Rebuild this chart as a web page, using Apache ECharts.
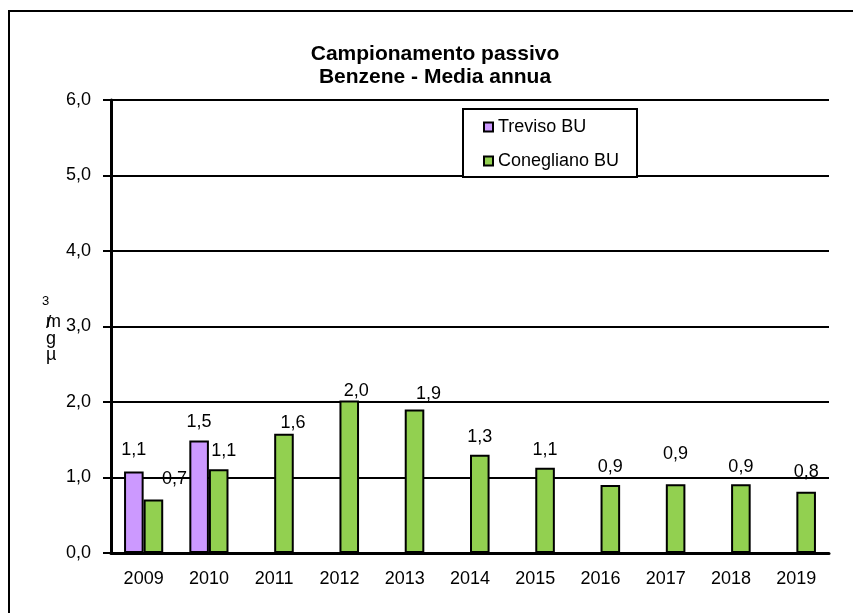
<!DOCTYPE html>
<html>
<head>
<meta charset="utf-8">
<script src="https://cdn.jsdelivr.net/npm/echarts@6/dist/echarts.min.js"></script>
<style>
  html, body { margin: 0; padding: 0; background: #fff; }
  #chart { width: 853px; height: 613px; }
</style>
</head>
<body>
<div id="chart"></div>
<script>
// dati
const years = ['2009', '2010', '2011', '2012', '2013', '2014', '2015', '2016', '2017', '2018', '2019']
const treviso = [1.08, 1.49, null, null, null, null, null, null, null, null, null]
const conegliano = [0.71, 1.11, 1.58, 2.02, 1.90, 1.30, 1.13, 0.90, 0.91, 0.91, 0.81]
const yTicks = [0, 1, 2, 3, 4, 5, 6]

// spostamenti etichette (come in Excel)
const trevisoShift = [[0, -7], [0, -4]]
const coneglianoShift = [[21, -6], [5, -4], [9, 3], [7, 5], [14, -2], [0, -4], [0, -4], [0, -4], [0, -16], [0, -3], [0, -6]]

const font = 'Liberation Sans, Arial, sans-serif'
const fmt = v => Number(v).toFixed(1).replace('.', ',')

function withLabels(values, shifts) {
  return values.map((v, i) => {
    if (v === null) return '-'
    return { value: v, label: { offset: shifts[i] || [0, -5] } }
  })
}

const chart = echarts.init(document.getElementById('chart'))
chart.setOption({
  backgroundColor: '#fff',
  animation: false,
  title: {
    text: 'Campionamento passivo\nBenzene - Media annua',
    left: 430,
    textAlign: 'center',
    top: 38,
    textStyle: { fontFamily: font, fontSize: 21, fontWeight: 'bold', color: '#000', lineHeight: 23 }
  },
  legend: {
    orient: 'vertical',
    left: 483,
    top: 118,
    padding: 0,
    z: 10,
    itemGap: 16,
    itemWidth: 9,
    itemHeight: 9,
    icon: 'rect',
    textStyle: { fontFamily: font, fontSize: 18, color: '#000' },
    data: ['Treviso BU', 'Conegliano BU']
  },
  grid: { left: 111, right: 24, top: 100, bottom: 60 },
  xAxis: {
    type: 'category',
    data: years,
    axisLine: { lineStyle: { color: '#000', width: 3 } },
    axisTick: { length: 7, lineStyle: { color: '#000', width: 2 } },
    axisLabel: { fontFamily: font, fontSize: 18, color: '#000', margin: 17 }
  },
  yAxis: {
    type: 'value',
    min: yTicks[0],
    max: yTicks[yTicks.length - 1],
    interval: 1,
    axisLine: { show: true, lineStyle: { color: '#000', width: 3 } },
    axisTick: { show: true, length: 8, lineStyle: { color: '#000', width: 2 } },
    axisLabel: { fontFamily: font, fontSize: 18, color: '#000', margin: 20, formatter: fmt },
    splitLine: { lineStyle: { color: '#000', width: 2 } }
  },
  graphic: [
    { type: 'rect', z: 0, shape: { x: 9, y: 11, width: 900, height: 700 }, style: { fill: 'none', stroke: '#000', lineWidth: 2 } },
    { type: 'rect', z: 1, shape: { x: 463, y: 109, width: 174, height: 68 }, style: { fill: '#fff', stroke: '#000', lineWidth: 2 } },
    // unità di misura (resa come nell'originale)
    { type: 'text', x: 42, y: 295, style: { text: '3', font: '13px ' + font, fill: '#000' } },
    { type: 'text', x: 46, y: 313, style: { text: 'm', font: '18px ' + font, fill: '#000' } },
    { type: 'text', x: 46, y: 313, style: { text: '/', font: '19px ' + font, fill: '#000' } },
    { type: 'text', x: 46, y: 330, style: { text: 'g', font: '18px ' + font, fill: '#000' } },
    { type: 'text', x: 46, y: 346, style: { text: 'µ', font: '18px ' + font, fill: '#000' } }
  ],
  series: [{
    name: 'Treviso BU',
    type: 'bar',
    barGap: '0%',
    barCategoryGap: '40%',
    z: 3,
    itemStyle: { color: '#cc99ff', borderColor: '#000', borderWidth: 2 },
    label: { show: true, position: 'top', fontFamily: font, fontSize: 18, color: '#000', formatter: p => fmt(p.value) },
    data: withLabels(treviso, trevisoShift)
  }, {
    name: 'Conegliano BU',
    type: 'bar',
    z: 3,
    itemStyle: { color: '#92d050', borderColor: '#000', borderWidth: 2 },
    label: { show: true, position: 'top', fontFamily: font, fontSize: 18, color: '#000', formatter: p => fmt(p.value) },
    data: withLabels(conegliano, coneglianoShift)
  }]
})
</script>
</body>
</html>
